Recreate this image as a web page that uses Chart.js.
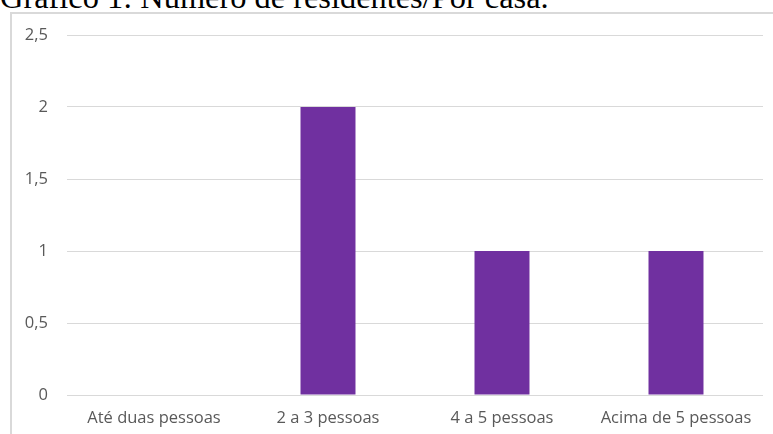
<!DOCTYPE html>
<html>
<head>
<meta charset="utf-8">
<script src="https://cdn.jsdelivr.net/npm/chart.js@4/dist/chart.umd.min.js"></script>
<style>
  html, body { margin: 0; padding: 0; background: #fff; overflow: hidden; }
  #wrap { position: relative; width: 773px; height: 434px; }
  #title {
    position: absolute; left: 0; top: -19px; margin: 0;
    font-family: "Liberation Serif", "Times New Roman", serif;
    font-size: 32.4px; line-height: 32px; font-weight: normal; color: #000; white-space: nowrap;
  }
  #frame {
    position: absolute; left: 10px; top: 12px; width: 780px; height: 440px;
    border: 2px solid #d9d9d9; box-sizing: border-box;
  }
  #chart { position: absolute; left: 0; top: 0; }
</style>
</head>
<body>
<div id="wrap">
  <div id="title">Gráfico 1: Número de residentes/Por casa.</div>
  <div id="frame"></div>
  <canvas id="chart" width="773" height="434"></canvas>
</div>
<script>
// Residents per household
const categories = ["Até duas pessoas", "2 a 3 pessoas", "4 a 5 pessoas", "Acima de 5 pessoas"];
const households = [0, 2, 1, 1];
const yTicks = [0, 0.5, 1, 1.5, 2, 2.5];

const labelFont = { family: "'Open Sans', 'Noto Sans', sans-serif", size: 16.5 };

new Chart(document.getElementById('chart'), {
  type: 'bar',
  data: {
    labels: categories,
    datasets: [{
      data: households,
      backgroundColor: '#7030a0',
      borderWidth: 0,
      barPercentage: 0.316,
      categoryPercentage: 1
    }]
  },
  options: {
    responsive: false,
    animation: false,
    layout: { padding: { left: 10, right: 10, top: 35, bottom: 0 } },
    plugins: { legend: { display: false }, tooltip: { enabled: false } },
    scales: {
      x: {
        grid: { display: false, drawTicks: false },
        border: { display: false },
        ticks: { color: '#595959', font: labelFont, padding: 13, maxRotation: 0 },
        afterFit: s => { s.height = 39; }
      },
      y: {
        min: 0, max: 2.5,
        afterBuildTicks: s => { s.ticks = yTicks.map(v => ({ value: v })); },
        grid: { color: '#d9d9d9', lineWidth: 1, drawTicks: false },
        border: { display: false },
        ticks: {
          color: '#595959', font: labelFont, padding: 19,
          callback: v => String(v).replace('.', ',')
        },
        afterFit: s => { s.width = 57; }
      }
    }
  }
});
</script>
</body>
</html>
